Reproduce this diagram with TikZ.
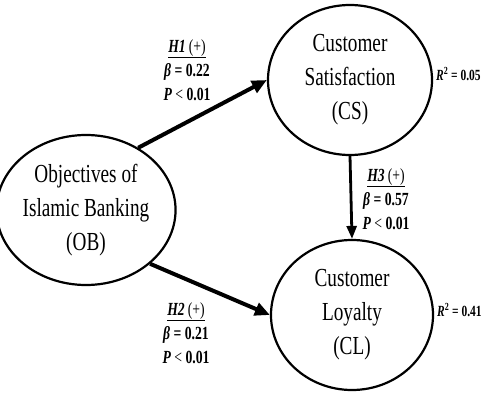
\documentclass[tikz,border=0pt]{standalone}
\usepackage{fontspec}
\setmainfont{Liberation Serif}[FakeStretch=0.74]
\usetikzlibrary{arrows.meta,shapes.geometric}
\tikzset{
  construct/.style={ellipse, draw, line width=2.2pt, minimum width=162pt, minimum height=150pt,
    inner sep=0pt, align=center, font=\fontsize{26}{34}\selectfont},
  pathA/.style={line width=4pt, -{Triangle[length=15pt,width=13pt]}},
  pathB/.style={line width=2.8pt, -{Triangle[length=13pt,width=10pt]}},
  lbl/.style={align=center, inner sep=0pt, font=\bfseries\fontsize{18.5}{24}\selectfont},
  rsq/.style={anchor=west, inner sep=0pt, font=\bfseries\fontsize{15.5}{17}\selectfont}
}
\newcommand{\hyp}[1]{\underline{\textit{#1}\,\mdseries(+)}}
\begin{document}
\begin{tikzpicture}[x=1pt,y=-1pt]
\useasboundingbox (0,0) rectangle (492,393);
\node[construct, minimum width=150pt] (OB) at (86,210) {Objectives of\\Islamic Banking\\(OB)};
\node[construct, minimum width=164pt] (CS) at (350,80) {Customer\\Satisfaction\\(CS)};
\node[construct] (CL) at (352,315) {Customer\\Loyalty\\(CL)};
\draw[pathA] (OB.50) -- (CS.west);
\draw[pathA] (OB.-40) -- (CL.west);
\draw[pathB] (CS.south) -- (CL.north);
\node[lbl] (L1) at (187,70) {\hyp{H1}\\\textit{β} = 0.22\\\textit{P} {\mdseries<} 0.01};
\node[lbl] (L3) at (386,199) {\hyp{H3}\\\textit{β} = 0.57\\\textit{P} {\mdseries<} 0.01};
\node[lbl] (L2) at (186,333) {\hyp{H2}\\\textit{β} = 0.21\\\textit{P} {\mdseries<} 0.01};
\node[rsq] (R1) at (436,74) {\textit{R}\textsuperscript{2} = 0.05};
\node[rsq] (R2) at (437,310) {\textit{R}\textsuperscript{2} = 0.41};
\end{tikzpicture}
\end{document}
